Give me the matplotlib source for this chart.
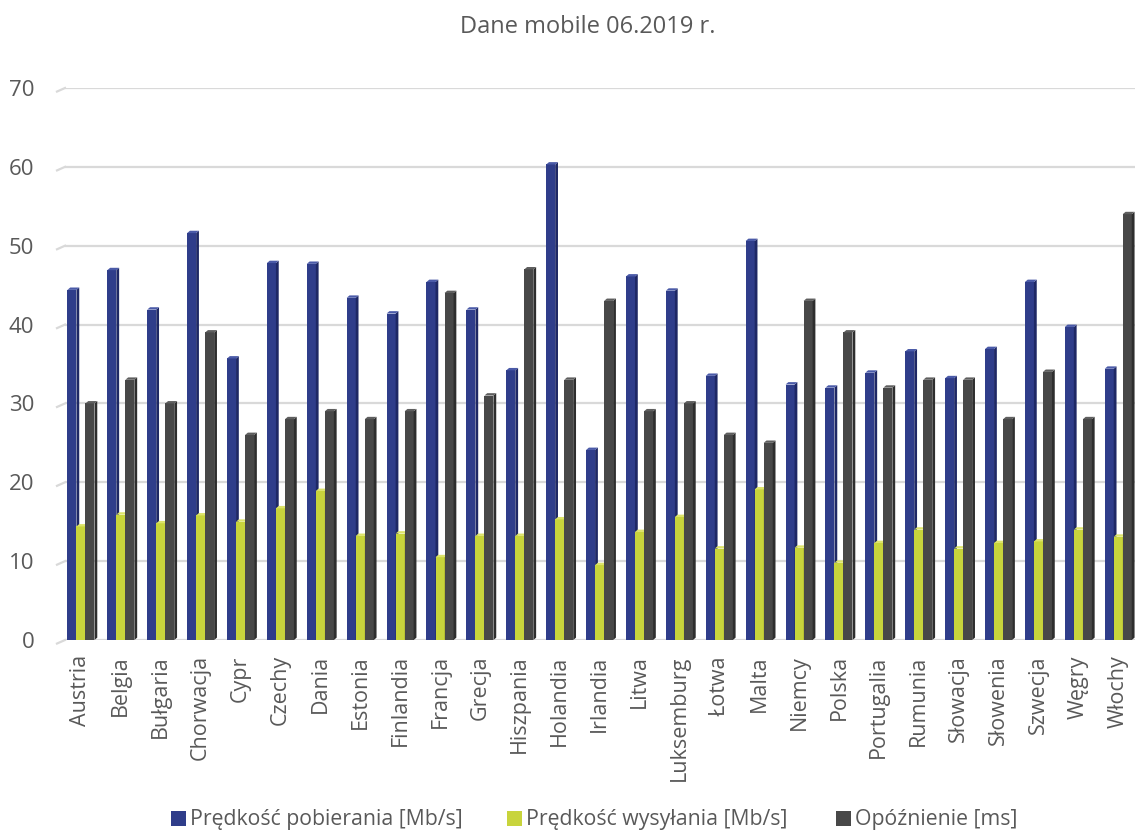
import matplotlib
matplotlib.use('Agg')
import matplotlib.pyplot as plt
from matplotlib.patches import Patch
import numpy as np

# data
countries = ["Austria", "Belgia", "Bułgaria", "Chorwacja", "Cypr", "Czechy", "Dania",
             "Estonia", "Finlandia", "Francja", "Grecja", "Hiszpania", "Holandia",
             "Irlandia", "Litwa", "Luksemburg", "Łotwa", "Malta", "Niemcy", "Polska",
             "Portugalia", "Rumunia", "Słowacja", "Słowenia", "Szwecja", "Węgry", "Włochy"]
download = [44.4, 46.9, 41.9, 51.6, 35.7, 47.8, 47.7, 43.4, 41.4, 45.4, 41.9, 34.2, 60.3,
            24.1, 46.1, 44.3, 33.5, 50.6, 32.4, 32.0, 33.9, 36.6, 33.2, 36.9, 45.4, 39.7, 34.4]
upload = [14.4, 15.9, 14.8, 15.8, 15.0, 16.7, 18.9, 13.2, 13.5, 10.5, 13.2, 13.2, 15.3,
          9.5, 13.7, 15.6, 11.6, 19.1, 11.7, 9.8, 12.3, 14.0, 11.6, 12.3, 12.5, 14.0, 13.1]
latency = [30, 33, 30, 39, 26, 28, 29, 28, 29, 44, 31, 47, 33,
           43, 29, 30, 26, 25, 43, 39, 32, 33, 33, 28, 34, 28, 54]

series = [download, upload, latency]
labels = ["Prędkość pobierania [Mb/s]", "Prędkość wysyłania [Mb/s]", "Opóźnienie [ms]"]
front_colors = ["#2f3d8a", "#c8d43c", "#484848"]
side_colors = ["#1e2865", "#9ea52a", "#2e2e2e"]
top_colors = ["#4a5aa8", "#dde46a", "#5e5e5e"]

plt.rcParams['font.family'] = ['Open Sans', 'DejaVu Sans']
text_color = "#595959"

fig = plt.figure(figsize=(11.35, 8.31), dpi=100)
ax = fig.add_axes([65 / 1135, 1 - 640 / 831, 1 - 65 / 1135, (640 - 88) / 831])

x = np.arange(len(countries))
w = 0.226
dx = 0.07    # depth of the fake 3D side face (x units)
dy = 0.3     # depth of the fake 3D side face (y units)

for i, vals in enumerate(series):
    xs = x + (i - 1) * w
    z = 3 + i
    ax.bar(xs, vals, width=w, color=front_colors[i], zorder=z, linewidth=0)
    for xc, v in zip(xs, vals):
        r = xc + w / 2
        l = xc - w / 2
        ax.fill([r, r + dx, r + dx, r], [0, dy, v + dy, v],
                color=side_colors[i], zorder=z, linewidth=0)
        ax.fill([l, r, r + dx, l + dx], [v, v, v + dy, v + dy],
                color=top_colors[i], zorder=z, linewidth=0)

ax.set_xlim(-0.40, len(countries) - 0.58)
ax.set_ylim(0, 70)
ax.set_yticks(range(0, 71, 10))
ax.set_xticks(x)
ax.set_xticklabels(countries, rotation=90, fontsize=15.5, color=text_color)
ax.tick_params(axis='y', length=0, pad=22, labelsize=16, labelcolor=text_color)
ax.tick_params(axis='x', length=0, pad=11)
ax.yaxis.grid(True, color="#d9d9d9", linewidth=1.6, zorder=0)
ax.set_axisbelow(True)
for s in ax.spines.values():
    s.set_visible(False)

# little slanted floor pieces at the left of each gridline
tr = ax.get_yaxis_transform()
ax_w = ax.get_position().width * 1135
for yv in range(0, 71, 10):
    ax.plot([-8 / ax_w, 0], [yv - 0.45, yv], transform=tr, color="#d9d9d9",
            linewidth=1.6, clip_on=False, zorder=0)

fig.text(0.518, 1 - 27 / 831, "Dane mobile 06.2019 r.", ha='center', va='center',
         fontsize=17, color=text_color)

# Excel spaces the legend entries unevenly, so place each one separately
legend_left = [171, 507, 836]
for c, lab, lx in zip(front_colors, labels, legend_left):
    leg = fig.legend([Patch(facecolor=c, edgecolor='none')], [lab], loc='center left',
                     bbox_to_anchor=(lx / 1135, 1 - 820 / 831), frameon=False,
                     fontsize=15.3, labelcolor=text_color, handlelength=0.7,
                     handleheight=0.7, handletextpad=0.2, borderpad=0, borderaxespad=0)

fig.savefig("out.png", dpi=100)
